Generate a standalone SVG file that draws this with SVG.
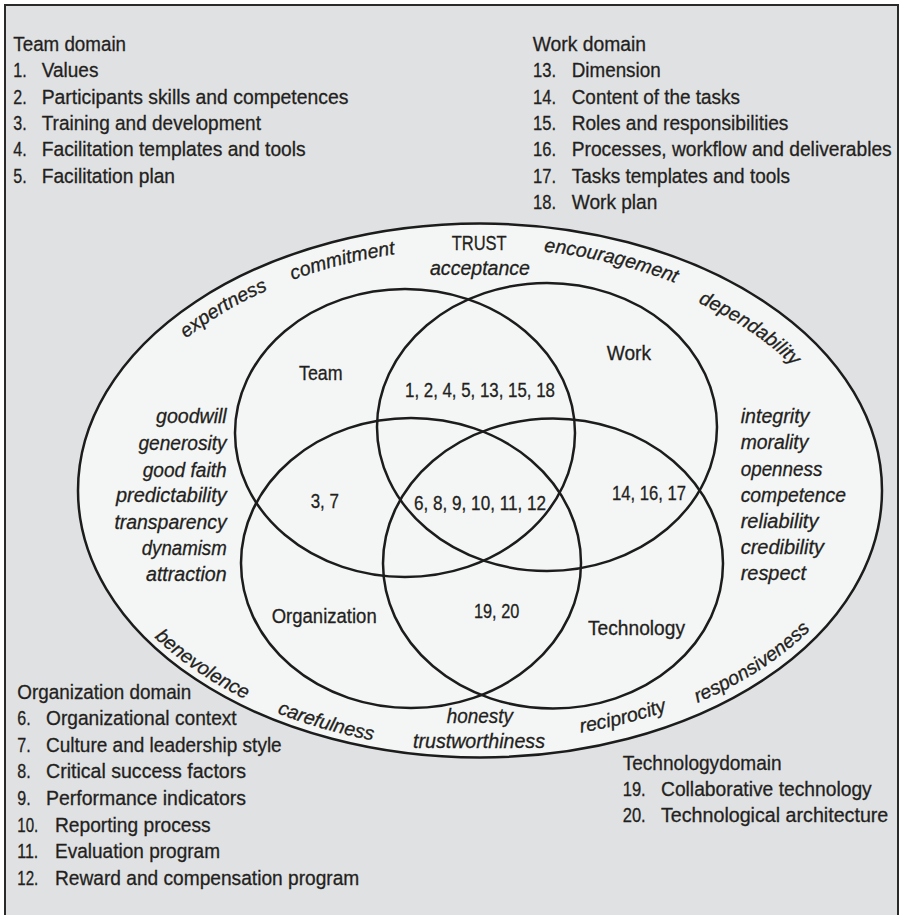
<svg xmlns="http://www.w3.org/2000/svg" width="901" height="915" viewBox="0 0 901 915">
  <style>
    .t { font-family: "Liberation Sans", Arial, sans-serif; font-size: 20.5px; fill: #231f20; stroke: #231f20; stroke-width: 0.3; }
    .i { font-style: italic; }
    .cv { font-size: 19.5px; }
    .ring { fill: none; stroke: #1c1c1c; stroke-width: 2.5; }
  </style>
  <defs>
    <!-- arcs that carry the curved trust words -->
    <path id="arc-expertness" d="M141.5,383.5 A377,242 0 0 1 327.6,268.7"/>
    <path id="arc-commitment" d="M227.7,310.2 A377,242 0 0 1 466.8,248.1"/>
    <path id="arc-encouragement" d="M486.6,248.0 A377,242 0 0 1 727.3,307.4"/>
    <path id="arc-dependability" d="M653.7,285.2 A370,232 0 0 1 823.1,403.1"/>
    <path id="arc-benevolence" d="M116.4,591.6 A395,260 0 0 0 300.7,721.7"/>
    <path id="arc-carefulness" d="M205.6,677.0 A395,260 0 0 0 452.4,749.4"/>
    <path id="arc-reciprocity" d="M495.2,740.8 A395,251 0 0 0 745.3,675.9"/>
    <path id="arc-responsiveness" d="M653.2,719.2 A395,255 0 0 0 840.8,593.7"/>
  </defs>

  <!-- frame -->
  <rect x="5" y="5" width="893" height="930" fill="#e0e1e3" stroke="#2a2a2a" stroke-width="2"/>

  <!-- trust ellipse with its qualities -->
  <g id="trust">
    <ellipse cx="480" cy="490.5" rx="402" ry="267" fill="#f4f5f5" stroke="#1c1c1c" stroke-width="2.5"/>
    <text class="t" x="451.7" y="250" textLength="55" lengthAdjust="spacingAndGlyphs">TRUST</text>
    <text class="t i" x="430" y="275" textLength="100" lengthAdjust="spacingAndGlyphs">acceptance</text>
    <text class="t cv i" text-anchor="middle"><textPath href="#arc-expertness" startOffset="50%">expertness</textPath></text>
    <text class="t cv i" text-anchor="middle"><textPath href="#arc-commitment" startOffset="50%">commitment</textPath></text>
    <text class="t cv i" text-anchor="middle"><textPath href="#arc-encouragement" startOffset="50%">encouragement</textPath></text>
    <text class="t cv i" text-anchor="middle"><textPath href="#arc-dependability" startOffset="50%">dependability</textPath></text>
    <text class="t cv i" text-anchor="middle"><textPath href="#arc-benevolence" startOffset="50%">benevolence</textPath></text>
    <text class="t cv i" text-anchor="middle"><textPath href="#arc-carefulness" startOffset="50%">carefulness</textPath></text>
    <text class="t cv i" text-anchor="middle"><textPath href="#arc-reciprocity" startOffset="50%">reciprocity</textPath></text>
    <text class="t cv i" text-anchor="middle"><textPath href="#arc-responsiveness" startOffset="50%">responsiveness</textPath></text>
    <text class="t i" x="446.7" y="723" textLength="66.3" lengthAdjust="spacingAndGlyphs">honesty</text>
    <text class="t i" x="413" y="748" textLength="132" lengthAdjust="spacingAndGlyphs">trustworthiness</text>
    <!-- left column -->
    <text class="t i" x="156" y="423.3" textLength="70.7" lengthAdjust="spacingAndGlyphs">goodwill</text>
    <text class="t i" x="138.4" y="450" textLength="88.3" lengthAdjust="spacingAndGlyphs">generosity</text>
    <text class="t i" x="142.7" y="476.7" textLength="84" lengthAdjust="spacingAndGlyphs">good faith</text>
    <text class="t i" x="116" y="502.3" textLength="110.7" lengthAdjust="spacingAndGlyphs">predictability</text>
    <text class="t i" x="114.4" y="529" textLength="112.3" lengthAdjust="spacingAndGlyphs">transparency</text>
    <text class="t i" x="141.7" y="555" textLength="85" lengthAdjust="spacingAndGlyphs">dynamism</text>
    <text class="t i" x="146" y="580.7" textLength="80.7" lengthAdjust="spacingAndGlyphs">attraction</text>
    <!-- right column -->
    <text class="t i" x="740.7" y="422.7" textLength="68.7" lengthAdjust="spacingAndGlyphs">integrity</text>
    <text class="t i" x="740.7" y="449" textLength="67.7" lengthAdjust="spacingAndGlyphs">morality</text>
    <text class="t i" x="740.7" y="475.7" textLength="81.7" lengthAdjust="spacingAndGlyphs">openness</text>
    <text class="t i" x="740.7" y="501.7" textLength="105.3" lengthAdjust="spacingAndGlyphs">competence</text>
    <text class="t i" x="740.7" y="528.3" textLength="77.7" lengthAdjust="spacingAndGlyphs">reliability</text>
    <text class="t i" x="740.7" y="554.3" textLength="83.3" lengthAdjust="spacingAndGlyphs">credibility</text>
    <text class="t i" x="740.7" y="580" textLength="65.3" lengthAdjust="spacingAndGlyphs">respect</text>
  </g>

  <!-- the four domain sets -->
  <g id="team-set">
    <ellipse class="ring" cx="405" cy="433" rx="170" ry="144"/>
    <text class="t" x="299" y="380" textLength="43.7" lengthAdjust="spacingAndGlyphs">Team</text>
  </g>
  <g id="work-set">
    <ellipse class="ring" cx="547" cy="427" rx="170" ry="144"/>
    <text class="t" x="606.7" y="360" textLength="44.3" lengthAdjust="spacingAndGlyphs">Work</text>
  </g>
  <g id="organization-set">
    <ellipse class="ring" cx="411" cy="563" rx="170" ry="145"/>
    <text class="t" x="271.7" y="623.3" textLength="105" lengthAdjust="spacingAndGlyphs">Organization</text>
  </g>
  <g id="technology-set">
    <ellipse class="ring" cx="553" cy="563.5" rx="170" ry="145"/>
    <text class="t" x="588" y="635" textLength="97" lengthAdjust="spacingAndGlyphs">Technology</text>
  </g>

  <!-- overlap numbers -->
  <g id="overlaps">
    <text class="t" x="405" y="396.7" textLength="150" lengthAdjust="spacingAndGlyphs">1, 2, 4, 5, 13, 15, 18</text>
    <text class="t" x="310.7" y="508.3" textLength="28.3" lengthAdjust="spacingAndGlyphs">3, 7</text>
    <text class="t" x="414" y="510" textLength="132" lengthAdjust="spacingAndGlyphs">6, 8, 9, 10, 11, 12</text>
    <text class="t" x="612" y="500" textLength="74" lengthAdjust="spacingAndGlyphs">14, 16, 17</text>
    <text class="t" x="474" y="617.7" textLength="45.3" lengthAdjust="spacingAndGlyphs">19, 20</text>
  </g>

  <!-- domain lists -->
  <g id="team-domain">
    <text class="t" x="13.3" y="51" textLength="112.7" lengthAdjust="spacingAndGlyphs">Team domain</text>
    <text class="t" x="13.3" y="77.3" textLength="13.4" lengthAdjust="spacingAndGlyphs">1.</text>
    <text class="t" x="41.7" y="77.3" textLength="56.7" lengthAdjust="spacingAndGlyphs">Values</text>
    <text class="t" x="13.3" y="103.6" textLength="13.4" lengthAdjust="spacingAndGlyphs">2.</text>
    <text class="t" x="41.7" y="103.6" textLength="306.7" lengthAdjust="spacingAndGlyphs">Participants skills and competences</text>
    <text class="t" x="13.3" y="129.9" textLength="13.4" lengthAdjust="spacingAndGlyphs">3.</text>
    <text class="t" x="41.7" y="129.9" textLength="219.3" lengthAdjust="spacingAndGlyphs">Training and development</text>
    <text class="t" x="13.3" y="156.2" textLength="13.4" lengthAdjust="spacingAndGlyphs">4.</text>
    <text class="t" x="41.7" y="156.2" textLength="264" lengthAdjust="spacingAndGlyphs">Facilitation templates and tools</text>
    <text class="t" x="13.3" y="182.5" textLength="13.4" lengthAdjust="spacingAndGlyphs">5.</text>
    <text class="t" x="41.7" y="182.5" textLength="133.3" lengthAdjust="spacingAndGlyphs">Facilitation plan</text>
  </g>

  <g id="work-domain">
    <text class="t" x="532.7" y="51" textLength="113.3" lengthAdjust="spacingAndGlyphs">Work domain</text>
    <text class="t" x="533" y="77.3" textLength="23" lengthAdjust="spacingAndGlyphs">13.</text>
    <text class="t" x="571.7" y="77.3" textLength="89" lengthAdjust="spacingAndGlyphs">Dimension</text>
    <text class="t" x="533" y="103.6" textLength="23" lengthAdjust="spacingAndGlyphs">14.</text>
    <text class="t" x="571.7" y="103.6" textLength="168.3" lengthAdjust="spacingAndGlyphs">Content of the tasks</text>
    <text class="t" x="533" y="129.9" textLength="23" lengthAdjust="spacingAndGlyphs">15.</text>
    <text class="t" x="571.7" y="129.9" textLength="216.7" lengthAdjust="spacingAndGlyphs">Roles and responsibilities</text>
    <text class="t" x="533" y="156.2" textLength="23" lengthAdjust="spacingAndGlyphs">16.</text>
    <text class="t" x="571.7" y="156.2" textLength="320" lengthAdjust="spacingAndGlyphs">Processes, workflow and deliverables</text>
    <text class="t" x="533" y="182.5" textLength="23" lengthAdjust="spacingAndGlyphs">17.</text>
    <text class="t" x="571.7" y="182.5" textLength="218.3" lengthAdjust="spacingAndGlyphs">Tasks templates and tools</text>
    <text class="t" x="533" y="208.8" textLength="23" lengthAdjust="spacingAndGlyphs">18.</text>
    <text class="t" x="571.7" y="208.8" textLength="85.7" lengthAdjust="spacingAndGlyphs">Work plan</text>
  </g>

  <g id="organization-domain">
    <text class="t" x="17.3" y="698.6" textLength="174" lengthAdjust="spacingAndGlyphs">Organization domain</text>
    <text class="t" x="17.3" y="725.2" textLength="13.4" lengthAdjust="spacingAndGlyphs">6.</text>
    <text class="t" x="46" y="725.2" textLength="190.7" lengthAdjust="spacingAndGlyphs">Organizational context</text>
    <text class="t" x="17.3" y="751.8" textLength="13.4" lengthAdjust="spacingAndGlyphs">7.</text>
    <text class="t" x="46" y="751.8" textLength="235.7" lengthAdjust="spacingAndGlyphs">Culture and leadership style</text>
    <text class="t" x="17.3" y="778.4" textLength="13.4" lengthAdjust="spacingAndGlyphs">8.</text>
    <text class="t" x="46" y="778.4" textLength="200" lengthAdjust="spacingAndGlyphs">Critical success factors</text>
    <text class="t" x="17.3" y="805" textLength="13.4" lengthAdjust="spacingAndGlyphs">9.</text>
    <text class="t" x="46" y="805" textLength="200" lengthAdjust="spacingAndGlyphs">Performance indicators</text>
    <text class="t" x="17.3" y="831.6" textLength="21" lengthAdjust="spacingAndGlyphs">10.</text>
    <text class="t" x="55" y="831.6" textLength="155.7" lengthAdjust="spacingAndGlyphs">Reporting process</text>
    <text class="t" x="17.3" y="858.2" textLength="21" lengthAdjust="spacingAndGlyphs">11.</text>
    <text class="t" x="55" y="858.2" textLength="165" lengthAdjust="spacingAndGlyphs">Evaluation program</text>
    <text class="t" x="17.3" y="884.8" textLength="21" lengthAdjust="spacingAndGlyphs">12.</text>
    <text class="t" x="55" y="884.8" textLength="304.3" lengthAdjust="spacingAndGlyphs">Reward and compensation program</text>
  </g>

  <g id="technology-domain">
    <text class="t" x="622.7" y="770" textLength="159" lengthAdjust="spacingAndGlyphs">Technologydomain</text>
    <text class="t" x="622.7" y="796.2" textLength="23" lengthAdjust="spacingAndGlyphs">19.</text>
    <text class="t" x="661" y="796.2" textLength="210.7" lengthAdjust="spacingAndGlyphs">Collaborative technology</text>
    <text class="t" x="622.7" y="822.4" textLength="23" lengthAdjust="spacingAndGlyphs">20.</text>
    <text class="t" x="661" y="822.4" textLength="227.3" lengthAdjust="spacingAndGlyphs">Technological architecture</text>
  </g>
</svg>
